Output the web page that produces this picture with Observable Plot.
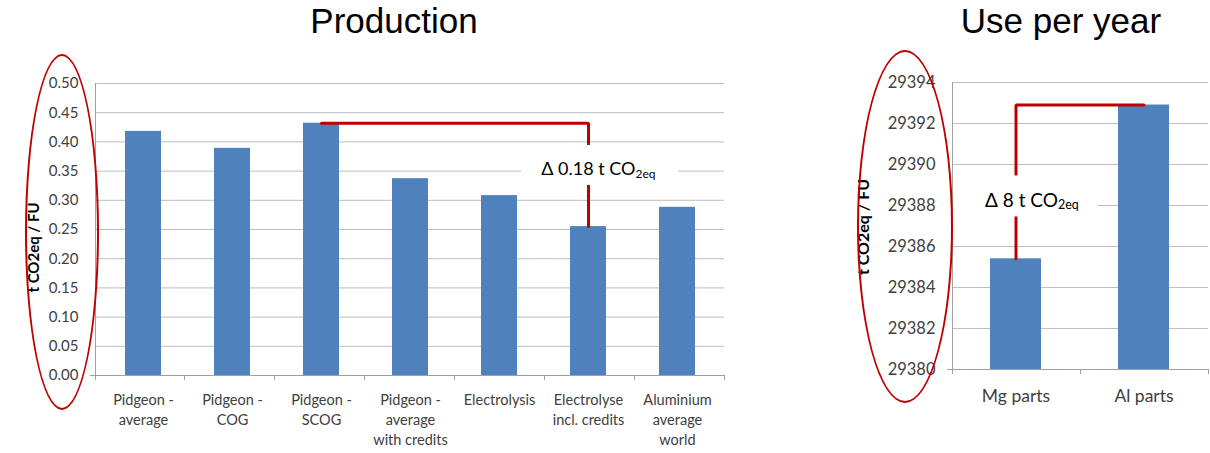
<!DOCTYPE html>
<html><head><meta charset="utf-8">
<script src="https://cdn.jsdelivr.net/npm/d3@7"></script>
<script src="https://cdn.jsdelivr.net/npm/@observablehq/plot@0.6"></script>
<style>
body{margin:0;background:#fff;}
#wrap{position:relative;width:1210px;height:453px;overflow:hidden;background:#fff;}
.title{position:absolute;top:3px;font-family:"Liberation Sans",Arial,sans-serif;font-size:35px;line-height:35px;color:#000;text-align:center;white-space:nowrap;}
.ring{position:absolute;border:2.5px solid #c00000;border-radius:50%;box-sizing:border-box;pointer-events:none;}
.chart{position:absolute;top:0;}
</style></head><body>
<div id="wrap">
  <div class="title" style="left:244px;width:300px">Production</div>
  <div class="title" style="left:911px;width:300px">Use per year</div>
  <div id="left" class="chart" style="left:0px"></div>
  <div id="right" class="chart" style="left:820px"></div>
  <div class="ring" style="left:25px;top:54px;width:74px;height:356px"></div>
  <div class="ring" style="left:857px;top:50px;width:96px;height:353px"></div>
</div>
<script>
// ---- data ----
const prodCategories = ["Pidgeon -\naverage", "Pidgeon -\nCOG", "Pidgeon -\nSCOG", "Pidgeon -\naverage\nwith credits", "Electrolysis", "Electrolyse\nincl. credits", "Aluminium\naverage\nworld"];
const prodValues = [0.418, 0.389, 0.432, 0.337, 0.308, 0.255, 0.288];
const prodTicks = [0, 0.05, 0.10, 0.15, 0.20, 0.25, 0.30, 0.35, 0.40, 0.45, 0.50];
const prodDelta = {from: "Pidgeon -\nSCOG", to: "Electrolyse\nincl. credits", label: "Δ 0.18 t CO", sub: "2eq"};

const useCategories = ["Mg parts", "Al parts"];
const useValues = [29385.4, 29392.9];
const useTicks = [29380, 29382, 29384, 29386, 29388, 29390, 29392, 29394];
const useDelta = {from: "Al parts", to: "Mg parts", label: "Δ 8 t CO", sub: "2eq"};

const yTitle = "t CO2eq / FU";

// ---- helpers ----
const BAR = "#4f81bd", RED = "#c00000", GRID = "#bdbdbd", AXIS = "#a0a0a0", TXT = "#404040";

function frameLines(n) {
  return (index, scales, values, dim) => {
    const {width, height, marginLeft: ml, marginRight: mr, marginTop: mt, marginBottom: mb} = dim;
    const x0 = ml, x1 = width - mr, y0 = mt, y1 = height - mb;
    const step = (x1 - x0) / n;
    const g = d3.create("svg:g").attr("stroke", AXIS).attr("fill", "none").attr("shape-rendering", "crispEdges");
    g.append("line").attr("x1", x0).attr("x2", x0).attr("y1", y0).attr("y2", y1);
    g.append("line").attr("x1", x0 - 5).attr("x2", x1).attr("y1", y1).attr("y2", y1);
    for (let i = 0; i <= n; i++) {
      const x = x0 + i * step;
      g.append("line").attr("x1", x).attr("x2", x).attr("y1", y1).attr("y2", y1 + 5);
    }
    return g.node();
  };
}

// white box behind the delta label (interrupts grid line and bracket)
function labelBox(cat, value, spec) {
  return (index, scales, values, dim) => {
    const xs = scales.x;
    const bw = typeof xs.bandwidth === "function" ? xs.bandwidth() : 0;
    const cx = xs(cat) + bw / 2 + spec.dx;
    const cy = scales.y(value) + spec.dy;
    const g = d3.create("svg:g");
    g.append("rect").attr("x", cx + spec.box[0]).attr("y", cy + spec.box[1])
      .attr("width", spec.box[2]).attr("height", spec.box[3]).attr("fill", "#fff");
    return g.node();
  };
}

// ---- left chart ----
const prodData = prodCategories.map((c, i) => ({c, v: prodValues[i]}));
const pFrom = prodValues[prodCategories.indexOf(prodDelta.from)];
const pTo = prodValues[prodCategories.indexOf(prodDelta.to)];
const pMid = (pFrom + pTo) / 2;
const prodBracket = [{c: prodDelta.from, v: pFrom}, {c: prodDelta.to, v: pFrom}, {c: prodDelta.to, v: pTo}];

const left = Plot.plot({
  width: 730, height: 453,
  marginLeft: 95, marginRight: 6, marginTop: 83, marginBottom: 78,
  style: {fontFamily: "Lato, sans-serif", fontSize: "15px", color: TXT, background: "transparent"},
  x: {domain: prodCategories, paddingInner: 0.6, paddingOuter: 0.3},
  y: {domain: [0, 0.5]},
  marks: [
    Plot.gridY(prodTicks, {stroke: GRID, strokeOpacity: 1}),
    Plot.barY(prodData, {x: "c", y: "v", fill: BAR}),
    Plot.line(prodBracket, {x: "c", y: "v", stroke: RED, strokeWidth: 3, strokeLinejoin: "miter"}),
    labelBox(prodDelta.to, pMid, {dx: 10, dy: -5.4, box: [-77, -24, 157, 40]}),
    Plot.text([prodDelta], {x: d => d.to, y: () => pMid, text: d => d.label, textAnchor: "end", dx: 47, dy: -5.4, fontSize: 18, fill: "#000"}),
    Plot.text([prodDelta], {x: d => d.to, y: () => pMid, text: d => d.sub, textAnchor: "start", dx: 47, dy: -1, fontSize: 12, fill: "#000"}),
    frameLines(prodCategories.length),
    Plot.axisY(prodTicks, {tickSize: 0, tickPadding: 17, tickFormat: d3.format(".2f"), label: null, fontSize: 15}),
    Plot.axisX({tickSize: 0, tickPadding: 15, label: null, lineHeight: 1.38, fontSize: 14.5}),
    Plot.text([yTitle], {frameAnchor: "left", textAnchor: "middle", dx: -61, dy: 18, rotate: -90, fontWeight: "bold", fontSize: 15, fill: "#000"})
  ]
});
document.getElementById("left").append(left);

// ---- right chart ----
const useData = useCategories.map((c, i) => ({c, v: useValues[i]}));
const uFrom = useValues[useCategories.indexOf(useDelta.from)];
const uTo = useValues[useCategories.indexOf(useDelta.to)];
const uMid = (uFrom + uTo) / 2;
const useBracket = [{c: useDelta.from, v: uFrom}, {c: useDelta.to, v: uFrom}, {c: useDelta.to, v: uTo}];

const right = Plot.plot({
  width: 390, height: 453,
  marginLeft: 132, marginRight: 2, marginTop: 82, marginBottom: 84,
  style: {fontFamily: "Lato, sans-serif", fontSize: "17px", color: TXT, background: "transparent"},
  x: {domain: useCategories, paddingInner: 0.6, paddingOuter: 0.3},
  y: {domain: [useTicks[0], useTicks[useTicks.length - 1]]},
  marks: [
    Plot.gridY(useTicks, {stroke: GRID, strokeOpacity: 1}),
    Plot.barY(useData, {x: "c", y1: useTicks[0], y2: "v", fill: BAR}),
    Plot.line(useBracket, {x: "c", y: "v", stroke: RED, strokeWidth: 3, strokeLinejoin: "miter"}),
    labelBox(useDelta.to, uMid, {dx: 13, dy: 19, box: [-75, -25, 144, 41]}),
    Plot.text([useDelta], {x: d => d.to, y: () => uMid, text: d => d.label, textAnchor: "end", dx: 42, dy: 19, fontSize: 19, fill: "#000"}),
    Plot.text([useDelta], {x: d => d.to, y: () => uMid, text: d => d.sub, textAnchor: "start", dx: 42, dy: 23, fontSize: 12.5, fill: "#000"}),
    frameLines(useCategories.length),
    Plot.axisY(useTicks, {tickSize: 0, tickPadding: 17, tickFormat: d => String(d), label: null, fontSize: 16.5}),
    Plot.axisX({tickSize: 0, tickPadding: 20, label: null, fontSize: 17.5}),
    Plot.text([yTitle], {frameAnchor: "left", textAnchor: "middle", dx: -89, dy: 1, rotate: -90, fontWeight: "bold", fontSize: 16, fill: "#000"})
  ]
});
document.getElementById("right").append(right);
</script>
</body></html>
